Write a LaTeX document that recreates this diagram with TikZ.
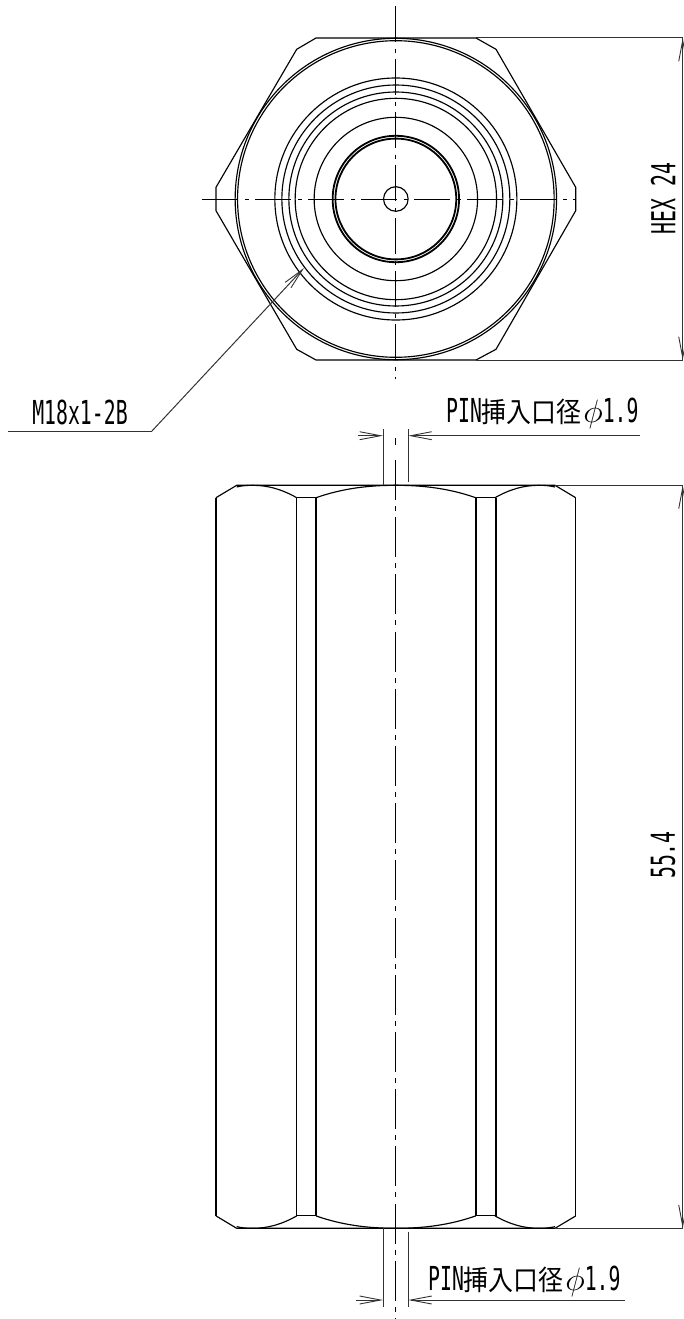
\documentclass[tikz,border=0pt]{standalone}
\usepackage{fontspec}
\usepackage{graphicx}
\newfontfamily\jpfont{Noto Sans CJK JP}
\newfontfamily\latinfont{DejaVu Sans Mono}
\usetikzlibrary{arrows.meta}
\definecolor{dimgray}{RGB}{50,50,50}
\tikzstyle{outline} = [black, line width=1.15pt, line join=round]
\tikzstyle{centerline} = [black, line width=1pt, dash pattern=on 36pt off 7pt on 4pt off 6pt]
\tikzstyle{axisline} = [black, line width=1pt, dash pattern=on 40pt off 6pt on 5pt off 6.2pt]
\tikzstyle{dimline} = [dimgray, line width=1pt]
\tikzstyle{dimarrow} = [dimline, -{Straight Barb[length=21pt,width=8pt,line width=0.9pt]}]
\tikzstyle{label} = [inner sep=0pt, text=black]
\newcommand{\hs}[1]{\scalebox{0.6}[1]{\fontsize{33}{33}\latinfont #1}}
\newcommand{\zen}[1]{\scalebox{0.89}[1]{\fontsize{28}{28}\jpfont #1}}
\newcommand{\pintext}{\hs{PIN}\zen{挿入口径}\,\scalebox{1.35}[1.3]{\fontsize{24}{24}\selectfont$\phi$}\hs{1.9}}
\begin{document}
\begin{tikzpicture}[x=1pt,y=-1pt]
\useasboundingbox (0,0) rectangle (683,1319);
% end view
\coordinate (c) at (395.85,199);
\draw[outline] (316,38) -- (476,38) -- (496,49.3) -- (575.7,187.3) -- (575.7,210.7) -- (496,349.3)
    -- (476,360) -- (316,360) -- (296.7,349.3) -- (216,210.7) -- (216,187.3) -- (296.7,49.3) -- cycle;
\foreach \r in {160.7,158.3,121,114,107,100.7,81.7,12.3}
    \draw[outline] (c) circle (\r);
\draw[outline, line width=1.8pt] (c) circle (63.2);
\draw[outline, line width=1.8pt] (c) circle (60.4);
\draw[centerline] (395.85,5.7) -- (395.85,379);
\draw[centerline] (202,199) -- (575.7,199);
% side view
\foreach \sy/\yy in {1/485.3,-1/1228.3}
  \foreach \sx in {1,-1}
  {
  \begin{scope}[shift={(395.85,\yy)},xscale=\sx,yscale=\sy]
    \draw[outline] (-179.85,12.4) -- (-159.15,0) -- (0,0);
    \draw[outline] (-99.15,12.4) -- (-79.85,12.4);
    \draw[outline] (-79.85,12.4) .. controls (-53,3) and (-27,0) .. (0,0);
    \draw[outline] (-99.15,12.4) .. controls (-114,4) and (-128,0) .. (-143,0)
        .. controls (-150,0) and (-155,0.6) .. (-159.15,1.7);
  \end{scope}
  }
\foreach \x in {216,296.7,316,476,496,575.7}
    \draw[outline] (\x,497.7) -- (\x,1215.9);
\draw[axisline] (395.85,438) -- (395.85,445);
\draw[axisline] (395.85,460) -- (395.85,1319);
% dimensions
\coordinate (hexa) at (682.7,38);
\coordinate (hexb) at (682.7,360);
\draw[dimline] (476,38) -- (hexa);
\draw[dimline] (476,360) -- (hexb);
\draw[dimarrow] (hexb) -- (hexa);
\draw[dimarrow] (hexa) -- (hexb);
\node[label, rotate=90] (hex) at (663,198.5) {\hs{HEX 24}};
\coordinate (lena) at (682.7,485.3);
\coordinate (lenb) at (682.7,1228.3);
\draw[dimline] (555,485.3) -- (lena);
\draw[dimline] (555,1228.3) -- (lenb);
\draw[dimarrow] (lenb) -- (lena);
\draw[dimarrow] (lena) -- (lenb);
\node[label, rotate=90] (len) at (663,855) {\hs{55.4}};
% pin upper
\draw[dimline] (383,429) -- (383,485.3);
\draw[dimline] (408.3,429) -- (408.3,482);
\coordinate (pinal) at (358,435.7);
\coordinate (pinar) at (640,435.7);
\draw[dimarrow] (pinal) -- (383,435.7);
\draw[dimarrow] (pinar) -- (408.3,435.7);
\node[label, anchor=west] (pinup) at (446,413) {\pintext};
% pin lower
\draw[dimline] (383,1228.3) -- (383,1306.7);
\draw[dimline] (408.3,1231.7) -- (408.3,1306.7);
\coordinate (pinbl) at (356,1300);
\coordinate (pinbr) at (625,1300);
\draw[dimarrow] (pinbl) -- (383,1300);
\draw[dimarrow] (pinbr) -- (408.3,1300);
\node[label, anchor=west] (pinlow) at (428,1281.7) {\pintext};
% thread note
\coordinate (leada) at (8,431.3);
\coordinate (leadb) at (151.7,431.3);
\coordinate (leadc) at (304,268);
\draw[dimline] (leada) -- (leadb);
\draw[dimarrow] (leadb) -- (leadc);
\node[label] (thread) at (80,412) {\hs{M18x1-2B}};
\end{tikzpicture}
\end{document}
